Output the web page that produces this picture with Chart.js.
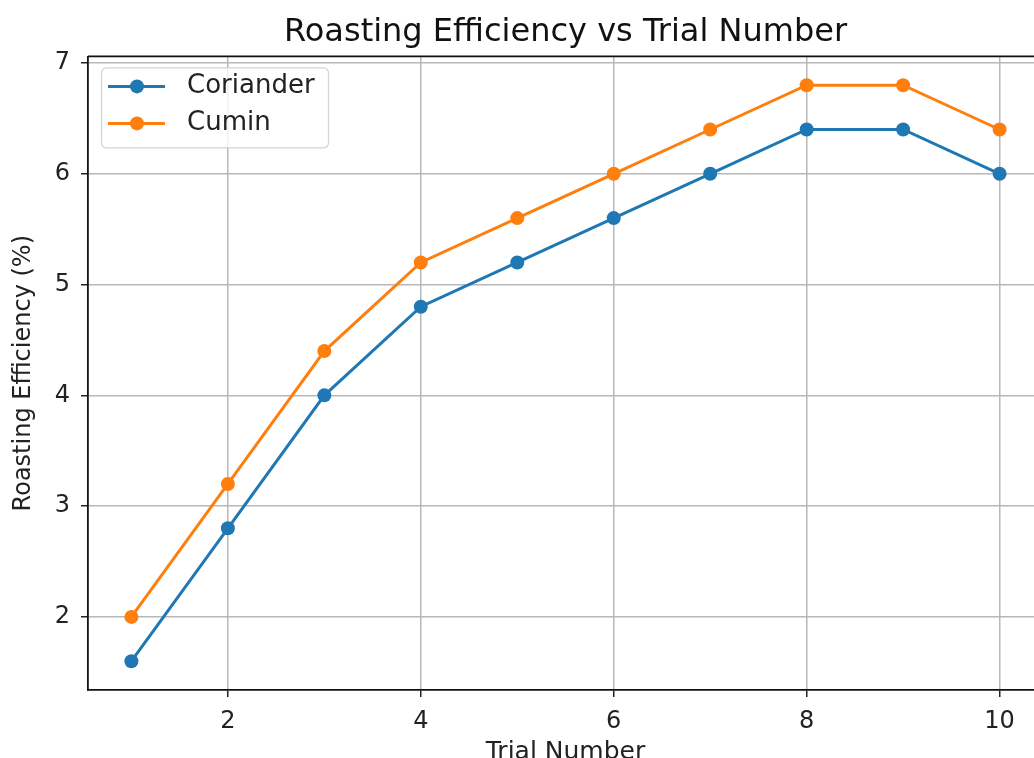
<!DOCTYPE html>
<html><head><meta charset="utf-8">
<script src="https://cdn.jsdelivr.net/npm/chart.js@4.4.1/dist/chart.umd.min.js"></script>
<style>
html,body{margin:0;padding:0;background:#fff;overflow:hidden;width:1034px;height:758px}
#wrap{position:absolute;left:0;top:0;width:1050px;height:780px}
</style></head><body>
<div id="wrap"><canvas id="c" width="1050" height="780"></canvas></div>
<script>
const chartTitle = 'Roasting Efficiency vs Trial Number';
const xAxisTitle = 'Trial Number';
const yAxisTitle = 'Roasting Efficiency (%)';
const trials = [1, 2, 3, 4, 5, 6, 7, 8, 9, 10];
const coriander = [1.6, 2.8, 4.0, 4.8, 5.2, 5.6, 6.0, 6.4, 6.4, 6.0];
const cumin = [2.0, 3.2, 4.4, 5.2, 5.6, 6.0, 6.4, 6.8, 6.8, 6.4];
const seriesNames = ['Coriander', 'Cumin'];
const seriesColors = ['#1f77b4', '#ff7f0e'];
const xTicks = [2, 4, 6, 8, 10];
const yTicks = [2, 3, 4, 5, 6, 7];

const FONT = '"DejaVu Sans", sans-serif';
const allY = coriander.concat(cumin);
const xMinD = Math.min(...trials), xMaxD = Math.max(...trials);
const yMinD = Math.min(...allY), yMaxD = Math.max(...allY);
const xPad = (xMaxD - xMinD) * 0.05, yPad = (yMaxD - yMinD) * 0.05;

function toPoints(vals) { return trials.map((t, i) => ({x: t, y: vals[i]})); }

const framePlugin = {
  id: 'frame',
  afterDatasetsDraw(chart) {
    const ctx = chart.ctx, a = chart.chartArea;
    ctx.save();
    ctx.strokeStyle = '#111';
    ctx.lineWidth = 1.8;
    ctx.beginPath();
    ctx.moveTo(a.left, a.top); ctx.lineTo(a.right, a.top);
    ctx.moveTo(a.right, a.top); ctx.lineTo(a.right, a.bottom);
    ctx.stroke();
    ctx.restore();
  }
};

const legendPlugin = {
  id: 'mplLegend',
  afterDatasetsDraw(chart) {
    const ctx = chart.ctx, a = chart.chartArea;
    const x0 = a.left + 13, y0 = a.top + 11, w = 227, h = 80, r = 5;
    ctx.save();
    ctx.beginPath();
    ctx.roundRect(x0 + 0.5, y0 + 0.5, w, h, r);
    ctx.fillStyle = 'rgba(255,255,255,0.8)';
    ctx.fill();
    ctx.strokeStyle = '#d4d4d4';
    ctx.lineWidth = 1.3;
    ctx.stroke();
    chart.data.datasets.forEach((ds, i) => {
      const cy = y0 + 19 + i * 37;
      ctx.strokeStyle = ds.borderColor;
      ctx.lineWidth = ds.borderWidth;
      ctx.beginPath(); ctx.moveTo(x0 + 7, cy); ctx.lineTo(x0 + 64, cy); ctx.stroke();
      ctx.fillStyle = ds.pointBackgroundColor;
      ctx.beginPath(); ctx.arc(x0 + 36, cy, 7, 0, Math.PI * 2); ctx.fill();
      ctx.fillStyle = '#222';
      ctx.font = '26px ' + FONT;
      ctx.textBaseline = 'middle';
      ctx.textAlign = 'left';
      ctx.fillText(ds.label, x0 + 86, cy);
    });
    ctx.restore();
  }
};

const datasets = [coriander, cumin].map((vals, i) => ({
  label: seriesNames[i],
  data: toPoints(vals),
  borderColor: seriesColors[i],
  backgroundColor: seriesColors[i],
  pointBackgroundColor: seriesColors[i],
  pointBorderWidth: 0,
  pointRadius: 7,
  pointHoverRadius: 7,
  borderWidth: 3,
  tension: 0,
  fill: false,
  order: 2 - i
}));

new Chart(document.getElementById('c'), {
  type: 'line',
  data: { datasets },
  plugins: [framePlugin, legendPlugin],
  options: {
    responsive: false,
    animation: false,
    devicePixelRatio: 1,
    layout: { padding: { left: 0, right: 7, top: 0, bottom: 0 } },
    plugins: {
      legend: { display: false },
      tooltip: { enabled: false },
      title: {
        display: true, text: chartTitle, fullSize: false,
        color: '#111', font: { family: FONT, size: 32, weight: 'normal' },
        padding: { top: 13, bottom: 5 }
      }
    },
    scales: {
      x: {
        type: 'linear', position: 'bottom',
        min: xMinD - xPad, max: xMaxD + xPad,
        afterBuildTicks(s) { s.ticks = xTicks.map(v => ({ value: v })); },
        afterFit(s) { s.height = 90; },
        grid: { color: '#b8b8b8', lineWidth: 1.5, tickColor: '#222', tickLength: 7, tickWidth: 1.5 },
        border: { color: '#111', width: 1.8 },
        ticks: { color: '#222', font: { family: FONT, size: 24 }, padding: 10, autoSkip: false, maxRotation: 0 },
        title: { display: true, text: xAxisTitle, color: '#222', font: { family: FONT, size: 25 }, padding: { top: 0, bottom: 13 } }
      },
      y: {
        type: 'linear', position: 'left',
        min: yMinD - yPad, max: yMaxD + yPad,
        afterBuildTicks(s) { s.ticks = yTicks.map(v => ({ value: v })); },
        afterFit(s) { s.width = 88; },
        grid: { color: '#b8b8b8', lineWidth: 1.5, tickColor: '#222', tickLength: 7, tickWidth: 1.5 },
        border: { color: '#111', width: 1.8 },
        ticks: { color: '#222', font: { family: FONT, size: 24 }, padding: 11, autoSkip: false },
        title: { display: true, text: yAxisTitle, color: '#222', font: { family: FONT, size: 24 }, padding: { top: 9, bottom: 0 } }
      }
    }
  }
});
</script>
</body></html>
